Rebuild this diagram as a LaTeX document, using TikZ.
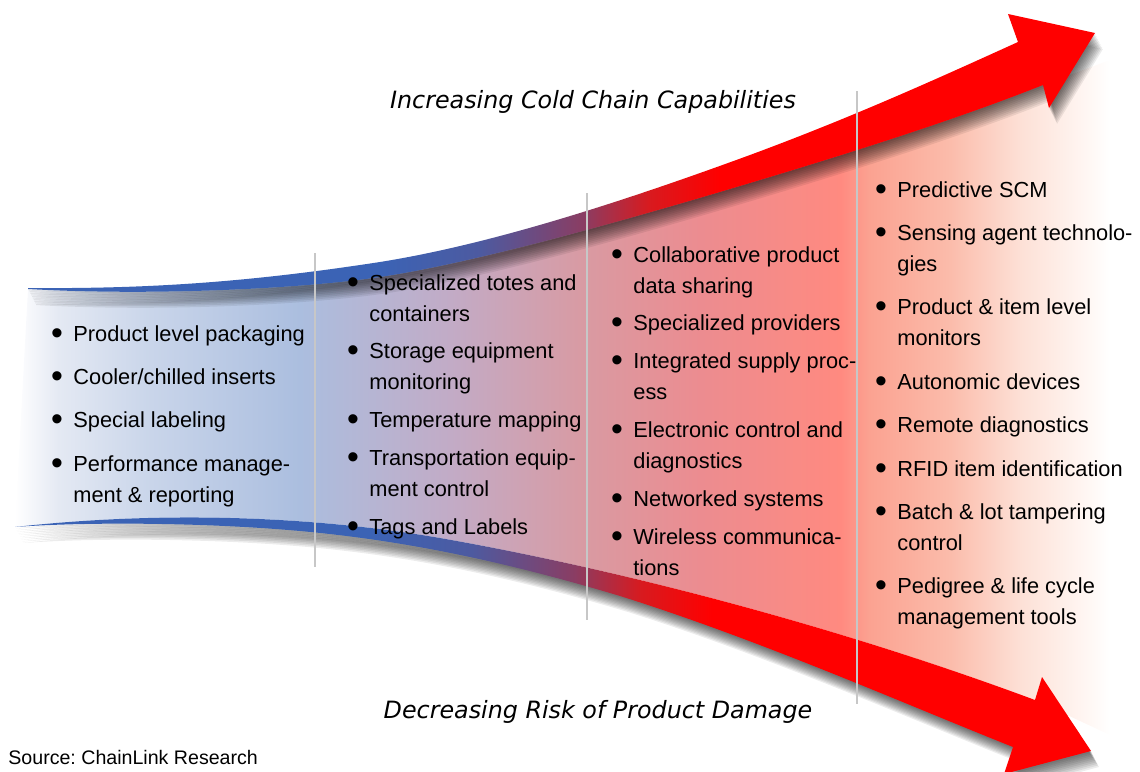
\documentclass[tikz,border=0pt]{standalone}
\usepackage{fontspec}
\setmainfont{Liberation Sans}
\newfontfamily\headfont{DejaVu Sans}

\definecolor{bandblue}{HTML}{3B63B5}
\definecolor{bandslate}{HTML}{4D5AA0}
\definecolor{bandplum}{HTML}{8A3D63}
\definecolor{bandcrimson}{HTML}{D81A1F}
\definecolor{fadeA}{HTML}{E4E9F3}
\definecolor{fadeB}{HTML}{C9D5EA}
\definecolor{fadeC}{HTML}{ABBEDF}
\definecolor{fadeD}{HTML}{C2ABC6}
\definecolor{fadeE}{HTML}{D99AA2}
\definecolor{fadeF}{HTML}{EC8C90}
\definecolor{fadeG}{HTML}{FF8A80}
\definecolor{fadeH}{HTML}{FBA291}
\definecolor{fadeI}{HTML}{FBBCAB}
\definecolor{fadeJ}{HTML}{FDE0D6}
\definecolor{fadeK}{HTML}{FFF8F5}

\pgfdeclarehorizontalshading{bandshade}{100bp}{color(0bp)=(bandblue); color(41.5bp)=(bandblue);
  color(46.2bp)=(bandslate); color(51bp)=(bandplum); color(54.1bp)=(bandcrimson);
  color(57.4bp)=(red); color(100bp)=(red)}
\pgfdeclarehorizontalshading{funnelshade}{100bp}{color(0bp)=(white); color(25bp)=(white);
  color(27bp)=(fadeA); color(31.2bp)=(fadeB); color(38bp)=(fadeC); color(44.9bp)=(fadeD);
  color(51.1bp)=(fadeE); color(56.3bp)=(fadeF); color(62.7bp)=(fadeG); color(64bp)=(fadeH);
  color(67.7bp)=(fadeI); color(70.9bp)=(fadeJ); color(74.1bp)=(fadeK); color(75bp)=(white);
  color(100bp)=(white)}

\newcommand{\blt}{\makebox[11.15pt][l]{\raisebox{-0.14em}{\scalebox{1.55}{\textbullet}}}}
\def\upperband{(28,288) .. controls (150,289) and (250,282) .. (380,262)
  .. controls (480,246) and (600,210) .. (750,155) .. controls (850,118) and (930,82) .. (1018,42)
  -- (1008,14) -- (1095,33) -- (1049,108) -- (1043,85)
  .. controls (960,118) and (860,150) .. (750,183) .. controls (640,216) and (480,262) .. (380,277)
  .. controls (300,289) and (150,296) .. (28,289) -- cycle}
\def\lowerband{(15,527) .. controls (150,512) and (300,514) .. (440,538)
  .. controls (600,566) and (820,620) .. (1035,700)
  -- (1042,677) -- (1091,751) -- (1004,774) -- (1013,747)
  .. controls (900,702) and (760,640) .. (620,596) .. controls (500,560) and (400,540) .. (300,531)
  .. controls (200,522) and (80,522) .. (15,527) -- cycle}

\begin{document}
\frenchspacing
\begin{tikzpicture}[x=0.5pt,y=-0.5pt,
    column/.style={anchor=base west,inner sep=0pt,font=\fontsize{10.9}{15.5}\selectfont},
    headline/.style={anchor=base,inner sep=0pt,font=\headfont\itshape\fontsize{11.9}{14}\selectfont},
    divider/.style={draw=black!22,line width=0.8pt}]
  \useasboundingbox (0,0) rectangle (1140,771);
  \clip (0,0) rectangle (1140,771);

  \shade[shading=funnelshade] (28,289) .. controls (150,296) and (300,289) .. (380,277)
    .. controls (480,262) and (640,216) .. (750,183) .. controls (860,150) and (960,118) .. (1043,85)
    -- (1110,60) -- (1110,735) -- (1035,700)
    .. controls (820,620) and (600,566) .. (440,538) .. controls (300,514) and (150,512) .. (15,527) -- cycle;

  % soft shadows under both arrows
  \foreach \s in {1,...,10}
    \fill[black,opacity=0.075,shift={(0.8*\s,1.6*\s)}] \upperband \lowerband;
  \shade[shading=bandshade] \upperband;
  \shade[shading=bandshade] \lowerband;

  \draw[divider] (315,253) -- (315,567);
  \draw[divider] (587,193) -- (587,620);
  \draw[divider] (857,91) -- (857,704);

  \node[headline] (capab) at (593,108) {Increasing Cold Chain Capabilities};
  \node[headline] (risk) at (598,718) {Decreasing Risk of Product Damage};

  \node[column] (basic) at (50.7,341) {\begin{tabular}[t]{@{}l@{}l@{}}
    \blt & Product level packaging\\[6.2pt]
    \blt & Cooler/chilled inserts\\[6.2pt]
    \blt & Special labeling\\[6.2pt]
    \blt & Performance manage-\\
         & ment \& reporting
  \end{tabular}};
  \node[column] (equip) at (346.7,290) {\begin{tabular}[t]{@{}l@{}l@{}}
    \blt & Specialized totes and\\
         & containers\\[3.4pt]
    \blt & Storage equipment\\
         & monitoring\\[3.4pt]
    \blt & Temperature mapping\\[3.4pt]
    \blt & Transportation equip-\\
         & ment control\\[3.4pt]
    \blt & Tags and Labels
  \end{tabular}};
  \node[column] (integ) at (610.7,262) {\begin{tabular}[t]{@{}l@{}l@{}}
    \blt & Collaborative product\\
         & data sharing\\[3.4pt]
    \blt & Specialized providers\\[3.4pt]
    \blt & Integrated supply proc-\\
         & ess\\[3.4pt]
    \blt & Electronic control and\\
         & diagnostics\\[3.4pt]
    \blt & Networked systems\\[3.4pt]
    \blt & Wireless communica-\\
         & tions
  \end{tabular}};
  \node[column] (sense) at (874.7,197) {\begin{tabular}[t]{@{}l@{}l@{}}
    \blt & Predictive SCM\\[6.2pt]
    \blt & Sensing agent technolo-\\
         & gies\\[6.2pt]
    \blt & Product \& item level\\
         & monitors\\[6.2pt]
    \blt & Autonomic devices\\[6.2pt]
    \blt & Remote diagnostics\\[6.2pt]
    \blt & RFID item identification\\[6.2pt]
    \blt & Batch \& lot tampering\\
         & control\\[6.2pt]
    \blt & Pedigree \& life cycle\\
         & management tools
  \end{tabular}};

  \node[anchor=base west,inner sep=0pt,font=\fontsize{9.8}{12}\selectfont] (source) at (8,764) {Source: ChainLink Research};
\end{tikzpicture}
\end{document}
